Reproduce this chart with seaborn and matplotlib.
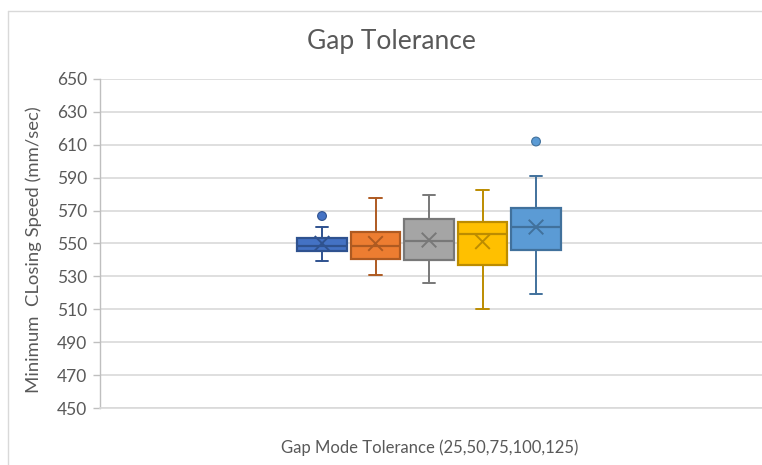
import numpy as np
import pandas as pd
import matplotlib
matplotlib.use("Agg")
import matplotlib.pyplot as plt
from matplotlib.lines import Line2D
import seaborn as sns

# Gap tolerance settings and their summary statistics (mm/sec)
tolerances = ["25", "50", "75", "100", "125"]
whisker_low = [539.5, 531.0, 526.0, 510.0, 519.0]
q1 = [545.6, 540.6, 540.0, 537.0, 546.2]
median = [548.7, 548.5, 551.5, 555.6, 560.2]
q3 = [553.2, 557.0, 564.9, 563.1, 571.8]
whisker_high = [559.8, 577.5, 579.3, 582.5, 591.0]
mean = [550.1, 550.0, 552.1, 551.1, 560.0]
outliers = [[566.7], [], [], [], [612.0]]
y_ticks = list(range(450, 651, 20))

fill_colors = ["#4472C4", "#ED7D31", "#A5A5A5", "#FFC000", "#5B9BD5"]
edge_colors = ["#2F528F", "#AE5A21", "#787878", "#BC8C00", "#41719C"]

W, H = 762, 465
sns.set_theme(style="white")
plt.rcParams["font.family"] = ["Lato", "DejaVu Sans"]
text_color = "#595959"

fig = plt.figure(figsize=(W / 100, H / 100), dpi=100)
fig.patch.set_facecolor("white")
fig.patch.set_linewidth(0)
ax = fig.add_axes([100 / W, 1 - 408 / H, 1 - 100 / W, (408 - 79) / H])

positions = np.arange(len(tolerances))
stats = [
    dict(label=t, whislo=wl, q1=a, med=m, q3=b, whishi=wh, fliers=[])
    for t, wl, a, m, b, wh in zip(tolerances, whisker_low, q1, median, q3, whisker_high)
]
art = ax.bxp(stats, positions=positions, widths=0.92, patch_artist=True,
             showfliers=False, manage_ticks=False)
for i in range(len(tolerances)):
    box = art["boxes"][i]
    box.set_facecolor(fill_colors[i])
    box.set_edgecolor(edge_colors[i])
    box.set_linewidth(1.6)
    art["medians"][i].set_color(edge_colors[i])
    art["medians"][i].set_linewidth(1.6)
    for k in (2 * i, 2 * i + 1):
        art["whiskers"][k].set_color(edge_colors[i])
        art["whiskers"][k].set_linewidth(1.4)
        art["caps"][k].set_color(edge_colors[i])
        art["caps"][k].set_linewidth(1.4)
        c = positions[i]
        art["caps"][k].set_xdata([c - 0.12, c + 0.12])

# Mean markers
mean_df = pd.DataFrame({"pos": positions, "mean": mean, "tol": tolerances})
sns.scatterplot(data=mean_df, x="pos", y="mean", hue="tol", palette=edge_colors,
                marker="x", s=110, linewidth=1.4, legend=False, ax=ax, zorder=5)

# Outlier points
out_df = pd.DataFrame(
    [(positions[i], v, tolerances[i]) for i in range(len(tolerances)) for v in outliers[i]],
    columns=["pos", "value", "tol"],
)
out_palette = {t: fill_colors[i] for i, t in enumerate(tolerances)}
out_edges = [edge_colors[tolerances.index(t)] for t in out_df["tol"]]
sns.scatterplot(data=out_df, x="pos", y="value", hue="tol", palette=out_palette,
                s=40, edgecolor=out_edges, linewidth=0.8, legend=False, ax=ax, zorder=5)

ax.set_xlim(2 - 6.15, 2 - 6.15 + (W - 100) / 53.5)
ax.set_ylim(450, 650)
ax.set_yticks(y_ticks)
ax.set_xticks([])
ax.yaxis.grid(True, color="#D9D9D9", linewidth=1.2)
ax.set_axisbelow(True)
for side in ("top", "right"):
    ax.spines[side].set_visible(False)
ax.spines["left"].set_color("#BFBFBF")
ax.spines["bottom"].set_color("#D9D9D9")
ax.spines["left"].set_linewidth(1.0)
ax.spines["bottom"].set_linewidth(1.2)
ax.tick_params(axis="y", which="major", left=True, length=5, width=1.0,
               color="#BFBFBF", labelcolor=text_color, labelsize=12.5, pad=4)
ax.set_xlabel("")
ax.set_ylabel("")

fig.text(34 / W, 1 - 250 / H, "Minimum  CLosing Speed (mm/sec)", rotation=90,
         ha="center", va="center", fontsize=13.3, color=text_color)
fig.text(391 / W, 1 - 42 / H, "Gap Tolerance", ha="center", va="center",
         fontsize=19, color=text_color)
fig.text(430 / W, 1 - 448 / H, "Gap Mode Tolerance (25,50,75,100,125)", ha="center",
         va="center", fontsize=12, color=text_color)

# Chart-area border (top and left edges)
border = dict(color="#D9D9D9", linewidth=1.0, transform=fig.transFigure)
fig.add_artist(Line2D([8 / W, 1.0], [1 - 11 / H, 1 - 11 / H], **border))
fig.add_artist(Line2D([8 / W, 8 / W], [0.0, 1 - 11 / H], **border))

fig.savefig("out.png", dpi=100)
